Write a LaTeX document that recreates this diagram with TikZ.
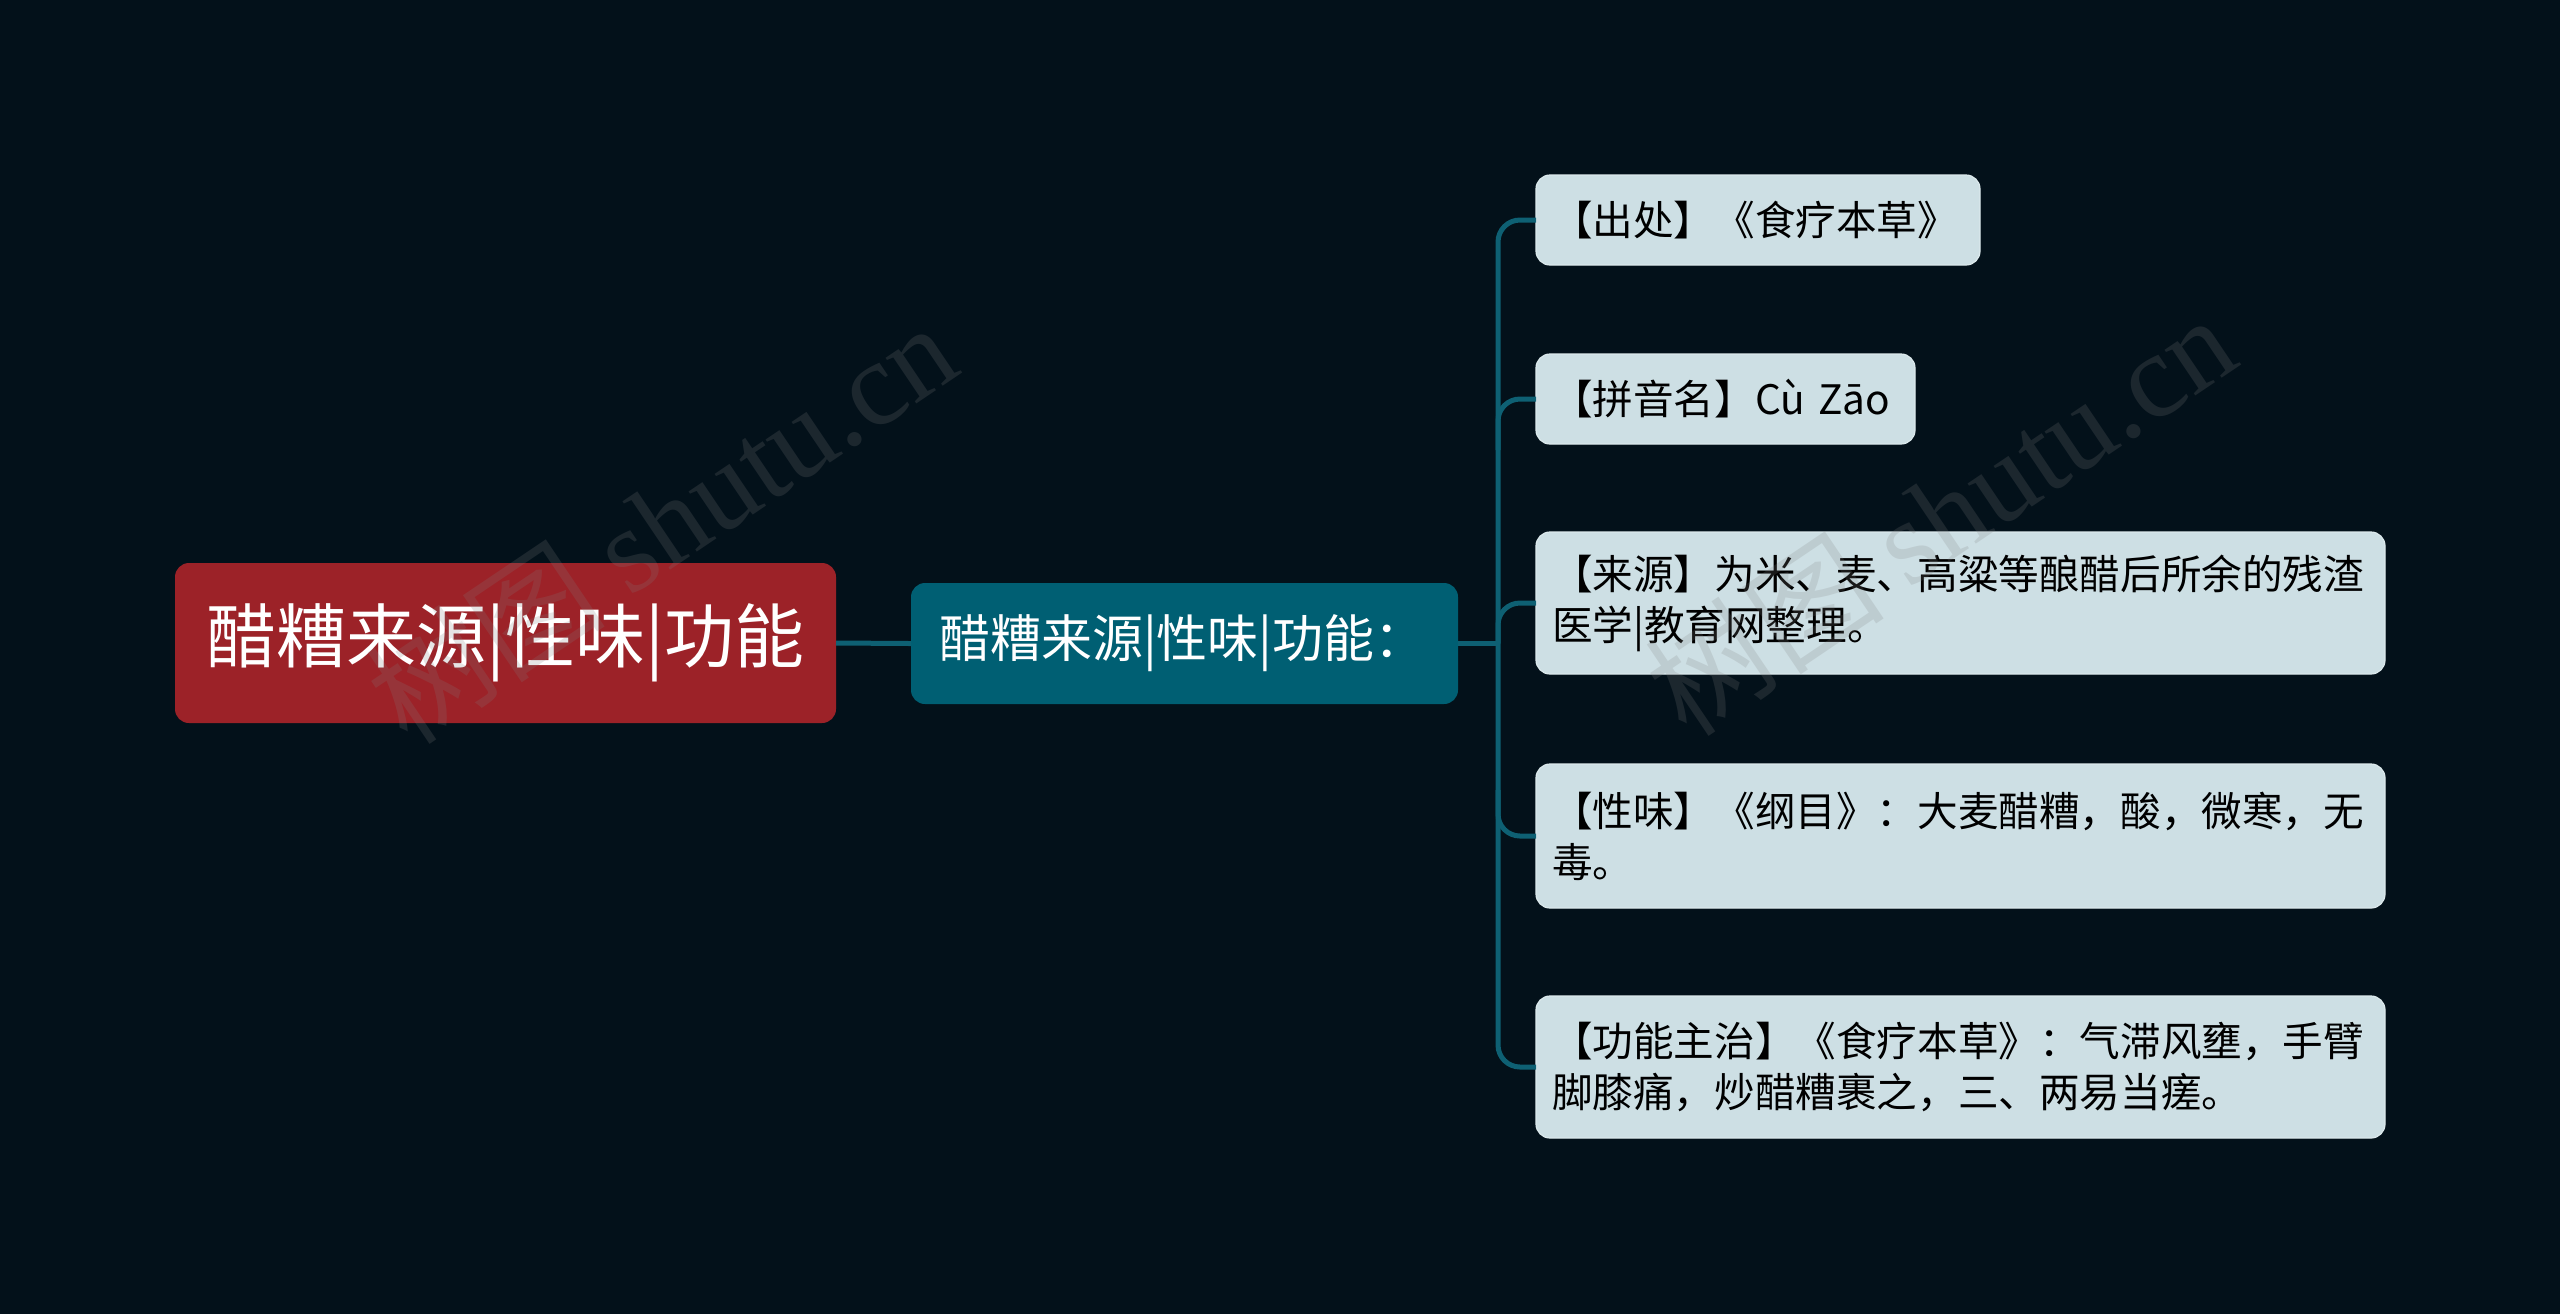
\documentclass[tikz,border=0pt]{standalone}
\usepackage{fontspec}
\setmainfont{Noto Sans CJK SC}
\newfontfamily\wmserif{Liberation Serif}
\definecolor{bgcol}{HTML}{03111A}
\definecolor{rootred}{HTML}{9C2228}
\definecolor{midteal}{HTML}{005F73}
\definecolor{conncol}{HTML}{0E6073}
\definecolor{leaffill}{HTML}{CDDFE4}
\begin{document}
\begin{tikzpicture}[x=0.5pt,y=-0.5pt,
  box/.style={rounded corners=7pt, inner ysep=0pt, outer sep=0pt},
  rootbox/.style={box, fill=rootred, text=white, minimum width=330.5pt, minimum height=80pt, inner xsep=0pt, font=\fontsize{35pt}{40pt}\selectfont},
  midbox/.style={box, fill=midteal, text=white, minimum height=60.5pt, inner xsep=14pt, text width=245.5pt, align=left, font=\fontsize{25.5pt}{30pt}\selectfont},
  leafbox/.style={box, fill=leaffill, draw=leaffill!70!white, line width=0.6pt, text=black, inner xsep=8pt, align=left, font=\fontsize{20.3pt}{25.5pt}\selectfont},
  conn/.style={draw=conncol, line width=2.5pt, rounded corners=11pt},
  wm/.style={text=gray, opacity=0.2, font=\fontsize{60pt}{60pt}\selectfont}]
\fill[bgcol] (0,0) rectangle (2560,1314);
\useasboundingbox (0,0) rectangle (2560,1314);

\node[rootbox] (root) at (505.5,643) {醋糟来源|性味|功能};
\node[midbox, anchor=west] (mid) at (911,643.5) {醋糟来源|性味|功能：};

\node[leafbox, anchor=west, text width=206pt, minimum height=45pt] (l1) at (1536,220) {【出处】《食疗本草》};
\node[leafbox, anchor=west, text width=173.5pt, minimum height=45pt] (l2) at (1536,399) {【拼音名】Cù Zāo};
\node[leafbox, anchor=west, text width=408.5pt, minimum height=71pt] (l3) at (1536,603) {【来源】为米、麦、高粱等酿醋后所余的残渣\\医学|教育网整理。};
\node[leafbox, anchor=west, text width=408.5pt, minimum height=72pt] (l4) at (1536,836) {【性味】《纲目》：大麦醋糟，酸，微寒，无\\毒。};
\node[leafbox, anchor=west, text width=408.5pt, minimum height=71pt] (l5) at (1536,1067) {【功能主治】《食疗本草》：气滞风壅，手臂\\脚膝痛，炒醋糟裹之，三、两易当瘥。};

\coordinate (t0) at (1498,643.5);
\coordinate (b2) at (1498,450);
\coordinate (b4) at (1498,790);

\draw[conn] (root.east) -- (mid.west);
\draw[conn] (mid.east) -- (t0);
\draw[conn] (l1.west) -| (t0) |- (l5.west);
\draw[conn] (b2) |- (l2.west);
\draw[conn] (t0) |- (l3.west);
\draw[conn] (b4) |- (l4.west);

\node[wm, rotate=34] (wm1) at (661,522) {树图 {\wmserif shutu.cn}};
\node[wm, rotate=34] (wm2) at (1940,514) {树图 {\wmserif shutu.cn}};
\end{tikzpicture}
\end{document}
